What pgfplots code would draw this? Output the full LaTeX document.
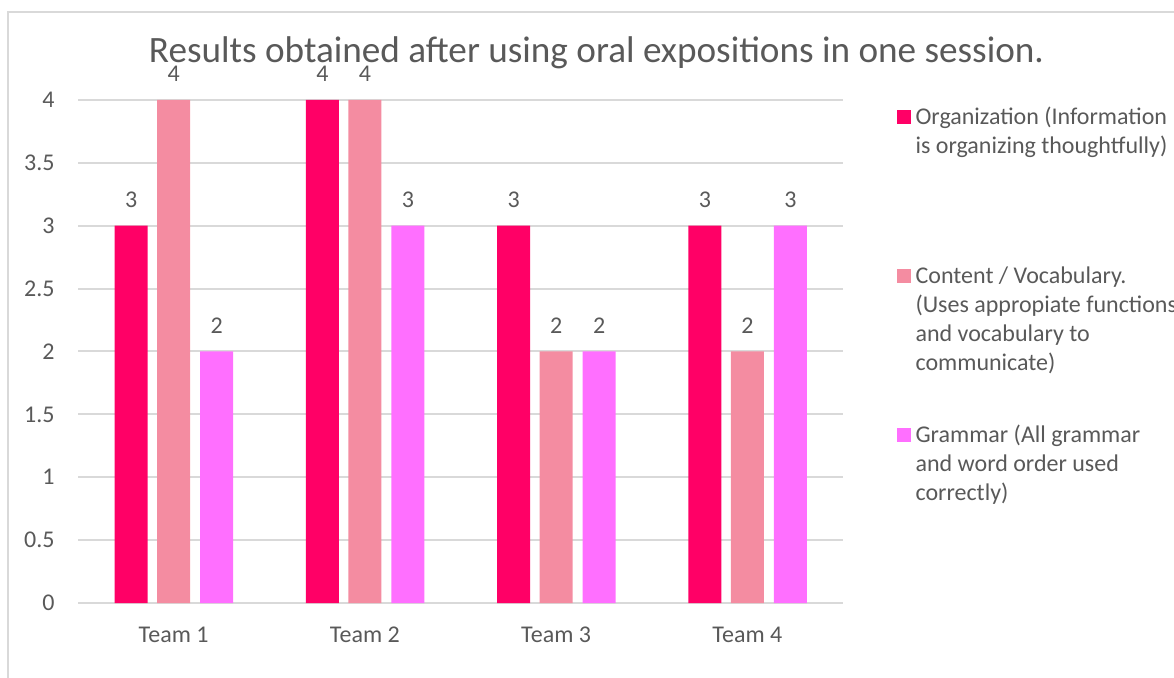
\documentclass[border=0pt]{standalone}
\usepackage{pgfplots}
\usepackage{pgfplotstable}
\pgfplotsset{compat=1.18}
\usepackage{fontspec}
\setmainfont{Carlito}

\definecolor{org}{HTML}{FF0066}
\definecolor{cont}{HTML}{F48CA1}
\definecolor{gram}{HTML}{FF6FFF}
\definecolor{txt}{HTML}{595959}
\definecolor{gridc}{HTML}{D9D9D9}

% scores per team: organization, content/vocabulary, grammar
\pgfplotstableread{
team org cont gram
0    3   4    2
1    4   4    3
2    3   2    2
3    3   2    3
}\scores

\newcommand{\lbl}{\fontsize{12bp}{14.5bp}\selectfont}
\newcommand{\legtext}[1]{\parbox[t]{160bp}{\lbl #1}}

\begin{document}
\begin{tikzpicture}
\useasboundingbox (0bp,0bp) rectangle (587bp,339bp);
\draw[gridc, line width=1bp] (4bp,-2bp) -- (4bp,333.2bp) -- (600bp,333.2bp);
\begin{axis}[
  at={(39bp,37.5bp)}, anchor=south west,
  scale only axis, width=382.5bp, height=251.5bp,
  ybar, clip=false,
  xmin=-0.5, xmax=3.5, ymin=0, ymax=4,
  xtick={0,1,2,3},
  xticklabels={Team 1,Team 2,Team 3,Team 4},
  ytick={0,0.5,...,4},
  major tick length=0pt,
  axis line style={draw=none},
  ymajorgrids, grid style={gridc, line width=1bp},
  /pgf/number format/assume math mode=true,
  tick label style={font=\lbl, text=txt, inner sep=0pt},
  yticklabel style={anchor=east, xshift=-11.5bp},
  xticklabel style={anchor=north, yshift=-12bp},
  bar width=16.5bp,
  nodes near coords,
  every node near coord/.append style={font=\lbl, text=txt, anchor=south, inner sep=0pt, yshift=9bp},
  title={Results obtained after using oral expositions in one session.},
  title style={font=\fontsize{18.6bp}{22bp}\selectfont, text=txt, at={(axis description cs:0.6778,1.05)}, anchor=base, inner sep=0pt},
  legend style={at={(rel axis cs:1.0695,0.992)}, anchor=north west, draw=none, fill=none,
    inner sep=0pt, row sep=9.5bp, column sep=2.5bp, text=txt,
    cells={anchor=base west},
    nodes={inner sep=0pt, text height=10bp, text depth=60bp}},
]
\addplot[draw=none, fill=org, bar shift=-21.25bp,
  legend image code/.code={\fill[org] (0bp,0bp) rectangle (7bp,7bp);}]
  table[x=team, y=org] {\scores};
\addlegendentry{\legtext{Organization (Information\\is organizing thoughtfully)}}
\addplot[draw=none, fill=cont, bar shift=0bp,
  legend image code/.code={\fill[cont] (0bp,0bp) rectangle (7bp,7bp);}]
  table[x=team, y=cont] {\scores};
\addlegendentry{\legtext{Content / Vocabulary.\\(Uses appropiate functions\\and vocabulary to\\communicate)}}
\addplot[draw=none, fill=gram, bar shift=21.5bp,
  legend image code/.code={\fill[gram] (0bp,0bp) rectangle (7bp,7bp);}]
  table[x=team, y=gram] {\scores};
\addlegendentry{\legtext{Grammar (All grammar\\and word order used\\correctly)}}
\end{axis}
\end{tikzpicture}
\end{document}
